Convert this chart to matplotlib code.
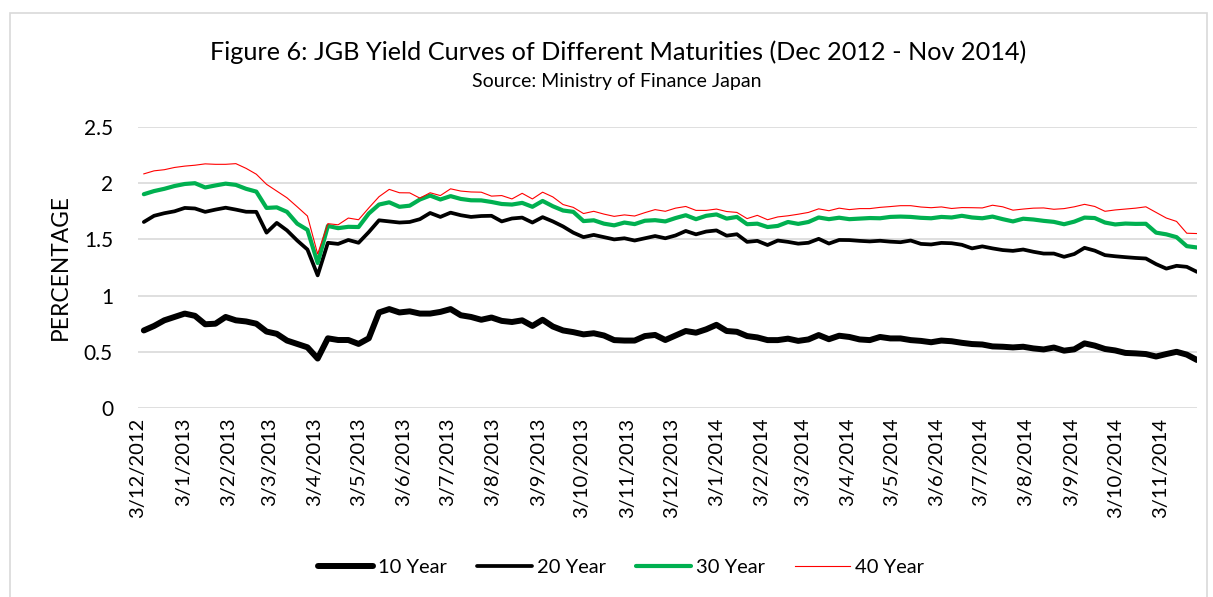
import numpy as np
import pandas as pd
import matplotlib
matplotlib.use("Agg")
import matplotlib.pyplot as plt
from matplotlib.patches import Rectangle

plt.rcParams['font.family'] = ['Lato', 'DejaVu Sans']

# weekly (Friday) readings of the JGB yields, Dec 2012 - Nov 2014
dates = pd.date_range("2012-12-07", periods=104, freq="7D")

ten = [0.69, 0.73, 0.78, 0.81, 0.84, 0.82, 0.745, 0.75, 0.81, 0.78,
       0.77, 0.75, 0.68, 0.66, 0.60, 0.57, 0.54, 0.44, 0.62, 0.605,
       0.605, 0.57, 0.62, 0.85, 0.88, 0.85, 0.86, 0.84, 0.84, 0.855,
       0.88, 0.825, 0.81, 0.785, 0.805, 0.775, 0.765, 0.78, 0.73, 0.785,
       0.725, 0.69, 0.675, 0.655, 0.665, 0.645, 0.604, 0.60, 0.60, 0.64,
       0.65, 0.605, 0.645, 0.685, 0.67, 0.70, 0.74, 0.685, 0.678, 0.64,
       0.628, 0.604, 0.604, 0.617, 0.597, 0.61, 0.649, 0.612, 0.643, 0.632,
       0.61, 0.604, 0.632, 0.619, 0.619, 0.604, 0.597, 0.585, 0.60, 0.594,
       0.58, 0.569, 0.565, 0.548, 0.545, 0.539, 0.545, 0.53, 0.521, 0.538,
       0.51, 0.522, 0.575, 0.555, 0.525, 0.512, 0.49, 0.486, 0.48, 0.458,
       0.48, 0.50, 0.475, 0.427]

twenty = [1.655, 1.71, 1.733, 1.75, 1.78, 1.775, 1.745, 1.765, 1.782, 1.765,
          1.746, 1.745, 1.56, 1.647, 1.58, 1.49, 1.41, 1.18, 1.47, 1.46,
          1.495, 1.47, 1.565, 1.67, 1.66, 1.65, 1.655, 1.68, 1.735, 1.70,
          1.738, 1.715, 1.70, 1.708, 1.71, 1.66, 1.686, 1.694, 1.65, 1.698,
          1.66, 1.615, 1.56, 1.52, 1.54, 1.52, 1.50, 1.51, 1.49, 1.51,
          1.53, 1.51, 1.535, 1.575, 1.545, 1.57, 1.58, 1.533, 1.546, 1.478,
          1.487, 1.45, 1.49, 1.478, 1.462, 1.47, 1.505, 1.463, 1.495, 1.494,
          1.487, 1.482, 1.488, 1.48, 1.475, 1.49, 1.46, 1.455, 1.469, 1.466,
          1.452, 1.42, 1.438, 1.42, 1.405, 1.398, 1.41, 1.39, 1.374, 1.374,
          1.345, 1.37, 1.425, 1.40, 1.36, 1.35, 1.342, 1.335, 1.33, 1.28,
          1.24, 1.265, 1.256, 1.211]

thirty = [1.902, 1.93, 1.95, 1.975, 1.993, 2.0, 1.962, 1.98, 1.996, 1.985,
          1.95, 1.925, 1.78, 1.785, 1.745, 1.64, 1.585, 1.29, 1.62, 1.60,
          1.612, 1.61, 1.73, 1.81, 1.83, 1.79, 1.80, 1.855, 1.89, 1.855,
          1.885, 1.86, 1.848, 1.847, 1.833, 1.815, 1.81, 1.825, 1.79, 1.842,
          1.795, 1.757, 1.745, 1.663, 1.67, 1.64, 1.625, 1.65, 1.636, 1.666,
          1.671, 1.66, 1.69, 1.715, 1.68, 1.71, 1.722, 1.685, 1.70, 1.635,
          1.64, 1.61, 1.62, 1.655, 1.638, 1.655, 1.695, 1.68, 1.693, 1.68,
          1.685, 1.69, 1.688, 1.70, 1.703, 1.70, 1.692, 1.688, 1.70, 1.695,
          1.71, 1.695, 1.688, 1.703, 1.68, 1.66, 1.684, 1.677, 1.665, 1.656,
          1.635, 1.658, 1.694, 1.69, 1.65, 1.633, 1.641, 1.638, 1.639, 1.56,
          1.545, 1.52, 1.44, 1.428]

forty = [2.083, 2.11, 2.12, 2.14, 2.152, 2.16, 2.172, 2.168, 2.168, 2.174,
         2.132, 2.08, 1.99, 1.93, 1.87, 1.79, 1.708, 1.37, 1.64, 1.63,
         1.69, 1.675, 1.78, 1.88, 1.945, 1.915, 1.914, 1.867, 1.915, 1.89,
         1.95, 1.93, 1.922, 1.92, 1.885, 1.89, 1.86, 1.91, 1.86, 1.92,
         1.878, 1.81, 1.785, 1.73, 1.75, 1.725, 1.705, 1.718, 1.708, 1.738,
         1.765, 1.75, 1.778, 1.793, 1.758, 1.758, 1.77, 1.748, 1.74, 1.685,
         1.714, 1.675, 1.70, 1.71, 1.724, 1.74, 1.772, 1.755, 1.778, 1.765,
         1.774, 1.774, 1.785, 1.792, 1.80, 1.80, 1.788, 1.782, 1.789, 1.775,
         1.783, 1.782, 1.78, 1.804, 1.79, 1.76, 1.77, 1.778, 1.78, 1.768,
         1.774, 1.79, 1.812, 1.793, 1.75, 1.762, 1.77, 1.778, 1.79, 1.74,
         1.69, 1.66, 1.555, 1.552]

tick_dates = pd.date_range("2012-12-01", periods=24, freq="MS") + pd.Timedelta(days=2)
tick_labels = ["{0}/{1}/{2}".format(d.day, d.month, d.year) for d in tick_dates]

W, H = 1213, 597
fig = plt.figure(figsize=(W / 100, H / 100), dpi=100)
fig.patches.append(Rectangle((10 / W, -0.01), 1197 / W, 1 - 13 / H + 0.01,
                             transform=fig.transFigure, fill=False,
                             edgecolor="#d9d9d9", linewidth=1.2))

ax = fig.add_axes([138 / W, 1 - 408 / H, (1197 - 138) / W, (408 - 127) / H])
ax.plot(dates, ten, color="black", lw=4.3, solid_capstyle="round", label="10 Year")
ax.plot(dates, twenty, color="black", lw=2.7, solid_capstyle="round", label="20 Year")
ax.plot(dates, thirty, color="#00B050", lw=3.0, solid_capstyle="round", label="30 Year")
ax.plot(dates, forty, color="#FF0000", lw=0.8, label="40 Year")

ax.set_xlim(pd.Timestamp("2012-12-03"), pd.Timestamp("2014-11-28"))
ax.set_ylim(0, 2.5)
ax.set_yticks([0, 0.5, 1, 1.5, 2, 2.5])
ax.set_yticklabels(["0", "0.5", "1", "1.5", "2", "2.5"])
ax.set_xticks(tick_dates)
ax.set_xticklabels(tick_labels, rotation=90)
ax.tick_params(axis="both", length=0, colors="black")
ax.tick_params(axis="y", pad=18, labelsize=15)
ax.tick_params(axis="x", pad=7, labelsize=14.5)
ax.grid(axis="y", color="#d9d9d9", lw=1.2)
ax.set_axisbelow(True)
for s in ax.spines.values():
    s.set_visible(False)
ax.set_ylabel("PERCENTAGE", fontsize=16.4)
ax.yaxis.set_label_coords(-0.063, 0.5)

fig.text(618 / W, 1 - 52 / H, "Figure 6: JGB Yield Curves of Different Maturities (Dec 2012 - Nov 2014)",
         ha="center", va="center", fontsize=18.2)
fig.text(617 / W, 1 - 82 / H, "Source: Ministry of Finance Japan",
         ha="center", va="center", fontsize=14)

fig.legend(loc="center", bbox_to_anchor=(621 / W, 1 - 567 / H), ncol=4,
           frameon=False, fontsize=14.5, handlelength=2.73, handletextpad=0.25,
           columnspacing=1.5)

fig.savefig("out.png", dpi=100)
